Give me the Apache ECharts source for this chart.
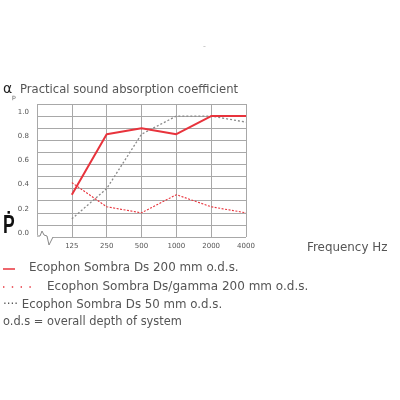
<!DOCTYPE html>
<html><head><meta charset="utf-8">
<script src="https://cdn.jsdelivr.net/npm/echarts@6/dist/echarts.min.js"></script>
<style>html,body{margin:0;padding:0;background:#fff}#c{width:400px;height:400px}</style>
</head><body><div id="c"></div>
<script>
const categories = ['', '125', '250', '500', '1000', '2000', '4000'];
const sombraDs200 = [null, 0.35, 0.85, 0.90, 0.85, 1.00, 1.00];
const sombraGamma200 = [null, 0.45, 0.25, 0.20, 0.35, 0.25, 0.20];
const sombraDs50 = [null, 0.15, 0.40, 0.85, 1.00, 1.00, 0.95];
const yTickLabels = ['0.0', '0.2', '0.4', '0.6', '0.8', '1.0'];

const FONT = 'DejaVu Sans';
const TXT = '#555';
const RED = '#e8333c';
const chart = echarts.init(document.getElementById('c'));
const option = {
  animation: false,
  grid: {left: 37, right: 154, top: 104, bottom: 163},
  xAxis: {
    type: 'category', data: categories, boundaryGap: false,
    axisLine: {show: false}, axisTick: {show: false},
    axisLabel: {color: TXT, fontSize: 7, fontFamily: FONT, margin: 6},
    splitLine: {show: true, lineStyle: {color: '#a8a8a8', width: 1}}
  },
  yAxis: {
    type: 'value', min: 0, max: 1.1, interval: 0.1,
    axisLine: {show: false}, axisTick: {show: false},
    axisLabel: {
      color: TXT, fontSize: 7, fontFamily: FONT, margin: 8,
      verticalAlign: 'bottom', lineHeight: 8,
      formatter: v => { const i = Math.round(v * 10); return (i % 2 === 0 && i / 2 < yTickLabels.length) ? yTickLabels[i / 2] : ''; }
    },
    splitLine: {show: true, lineStyle: {color: '#a8a8a8', width: 1}}
  },
  series: [
    {type: 'line', data: sombraDs50, symbol: 'none', z: 2,
     lineStyle: {color: '#8a8a8a', width: 1.3, type: [2, 2]}},
    {type: 'line', data: sombraGamma200, symbol: 'none', z: 3,
     lineStyle: {color: RED, width: 1.1, type: [2, 1.5]}},
    {type: 'line', data: sombraDs200, symbol: 'none', z: 4,
     lineStyle: {color: RED, width: 2}}
  ]
};
chart.setOption(option);

const o = chart.convertToPixel({xAxisIndex: 0, yAxisIndex: 0}, [0, 0]);
const ox = o[0], oy = o[1];
chart.setOption({
  graphic: [
    {type: 'rect', shape: {x: ox - 1, y: oy - 2, width: 17, height: 4}, style: {fill: '#fff'}, z: 10},
    {type: 'polyline', shape: {points: [[ox, oy - 1], [ox + 3, oy - 1], [ox + 5, oy - 6], [ox + 7, oy - 2], [ox + 10, oy - 1], [ox + 12, oy + 8], [ox + 16, oy]]},
     style: {stroke: '#888', lineWidth: 1, fill: null}, z: 11},
    {type: 'text', left: 3, top: 82, style: {text: 'α', fill: '#222', font: '14px "' + FONT + '"'}},
    {type: 'text', left: 12, top: 94, style: {text: 'p', fill: TXT, font: '6px "' + FONT + '"'}},
    {type: 'text', left: 20, top: 84, style: {text: 'Practical sound absorption coefficient', fill: TXT, font: '11.6px "' + FONT + '"'}},
    {type: 'text', x: 3, y: 214, scaleX: 0.7, style: {text: 'Ṗ', fill: '#111', font: 'bold 25px "Liberation Sans"'}},
    {type: 'text', left: 203, top: 43, style: {text: '-', fill: '#bbb', font: '8px "' + FONT + '"'}},
    {type: 'text', left: 307, top: 242, style: {text: 'Frequency Hz', fill: TXT, font: '11.9px "' + FONT + '"'}},
    {type: 'line', shape: {x1: 3, y1: 269, x2: 15, y2: 269}, style: {stroke: RED, lineWidth: 1.5}},
    {type: 'text', left: 29, top: 262, style: {text: 'Ecophon Sombra Ds 200 mm o.d.s.', fill: TXT, font: '11.9px "' + FONT + '"'}},
    {type: 'line', shape: {x1: 3, y1: 287, x2: 33, y2: 287}, style: {stroke: RED, lineWidth: 1.4, lineDash: [1.4, 7.4]}},
    {type: 'text', left: 47, top: 281, style: {text: 'Ecophon Sombra Ds/gamma 200 mm o.d.s.', fill: TXT, font: '12px "' + FONT + '"'}},
    {type: 'text', left: 3, top: 299, style: {text: '···· Ecophon Sombra Ds 50 mm o.d.s.', fill: TXT, font: '11.8px "' + FONT + '"'}},
    {type: 'text', left: 3, top: 317, style: {text: 'o.d.s = overall depth of system', fill: TXT, font: '11.4px "' + FONT + '"'}}
  ]
});
</script></body></html>
